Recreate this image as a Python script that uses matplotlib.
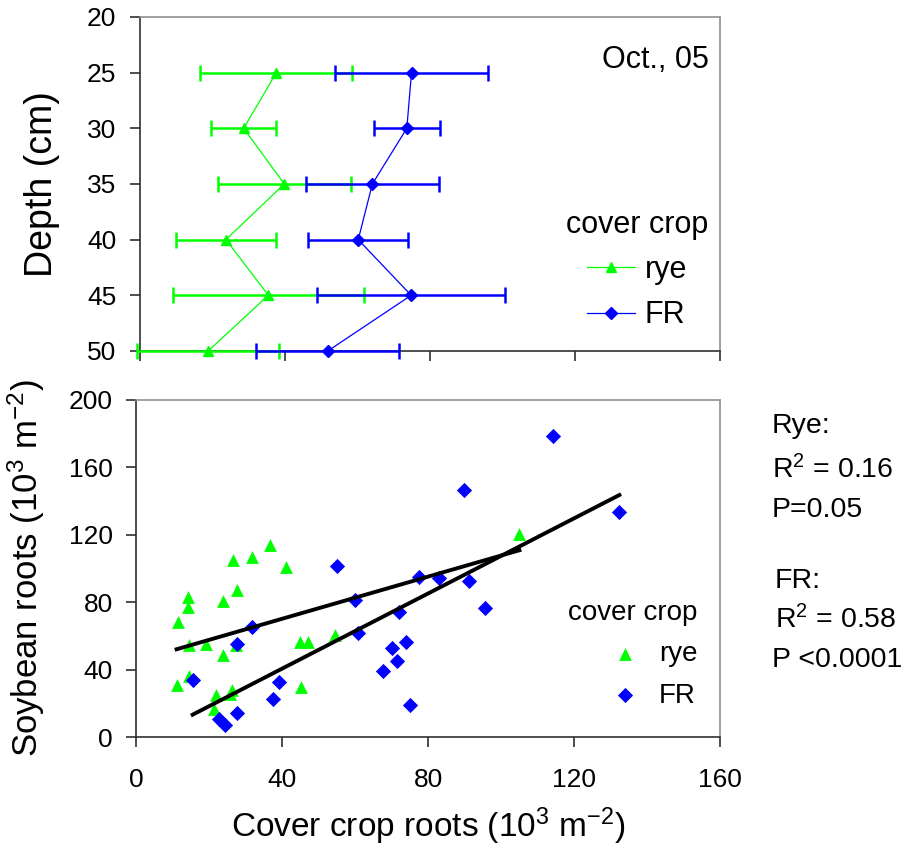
import matplotlib
matplotlib.use("Agg")
import matplotlib.pyplot as plt
import numpy as np

plt.rcParams['font.family'] = ['Liberation Sans', 'DejaVu Sans']
plt.rcParams['mathtext.fontset'] = 'custom'
plt.rcParams['mathtext.rm'] = 'Liberation Sans'
plt.rcParams['mathtext.it'] = 'Liberation Sans:italic'
plt.rcParams['mathtext.bf'] = 'Liberation Sans:bold'

# top panel: roots by depth (Oct., 05)
depth = [25, 30, 35, 40, 45, 50]
rye_mean = [37.6, 28.6, 39.8, 23.7, 35.4, 18.8]
rye_err = [21.0, 9.0, 18.3, 13.8, 26.4, 19.6]
fr_mean = [74.9, 73.6, 64.1, 60.2, 74.8, 51.8]
fr_err = [21.0, 9.1, 18.3, 13.8, 26.0, 19.7]

# bottom panel: soybean roots vs cover crop roots
rye_x = [11.5, 14.0, 14.0, 14.5, 11.0, 14.5, 19.0, 23.8, 23.8, 21.8, 21.3, 26.1,
         25.6, 26.4, 27.6, 27.3, 31.8, 36.6, 41.0, 44.8, 47.1, 45.0, 54.3, 105.0]
rye_y = [68.3, 83.1, 77.2, 54.8, 31.1, 36.0, 55.4, 80.5, 48.9, 25.2, 16.4, 27.7,
         25.8, 104.9, 87.5, 54.4, 106.8, 113.8, 100.9, 56.4, 56.4, 29.7, 60.8, 120.7]
fr_x = [15.4, 22.7, 24.4, 27.6, 27.6, 31.8, 37.5, 39.1, 54.9, 59.9, 60.8, 67.7,
        70.1, 71.5, 72.1, 73.9, 75.0, 77.4, 82.9, 91.2, 95.6, 89.7, 114.3, 132.4]
fr_y = [33.6, 10.5, 7.4, 14.5, 55.4, 65.3, 22.4, 32.6, 101.5, 81.1, 62.0, 39.2,
        52.8, 44.9, 74.2, 56.4, 18.8, 95.0, 94.6, 92.6, 76.8, 146.8, 178.5, 133.4]

# fitted lines (slope, intercept)
rye_fit = [0.625, 45.2]
fr_fit = [1.114, -3.9]

stats = ['Rye:', 'R$^2$ = 0.16', 'P=0.05', 'FR:', 'R$^2$ = 0.58', 'P <0.0001']

green = '#00FF00'
blue = '#0000FF'

fig = plt.figure(figsize=(9.05, 8.49), dpi=100)
ax1 = fig.add_axes([0.1547, 0.5866, 0.6409, 0.3934])
ax2 = fig.add_axes([0.1508, 0.1319, 0.6448, 0.397])

for ax in (ax1, ax2):
    for s in ('top', 'right'):
        ax.spines[s].set_color('#909090')
    for s in ('left', 'bottom'):
        ax.spines[s].set_color('#303030')
    ax.spines[:].set_linewidth(1.2)
    ax.tick_params(direction='out', length=7, width=1.2, labelsize=19, colors='#303030', labelcolor='black')
    ax.tick_params(axis='y', pad=10)
    ax.tick_params(axis='x', pad=15)

# top panel
ax1.errorbar(rye_mean, depth, xerr=rye_err, color=green, marker='^', ms=7, lw=0.9,
             elinewidth=1.8, capsize=5.5, capthick=1.8, clip_on=False, label='rye', zorder=3)
ax1.errorbar(fr_mean, depth, xerr=fr_err, color=blue, marker='D', ms=6, lw=0.9,
             elinewidth=1.8, capsize=5.5, capthick=1.8, clip_on=False, label='FR', zorder=4)
ax1.set_xlim(0, 160)
ax1.set_ylim(50, 20)
ax1.set_xticks([0, 40, 80, 120, 160])
ax1.set_xticklabels([])
ax1.set_yticks([20, 25, 30, 35, 40, 45, 50])
ax1.set_ylabel('Depth (cm)', fontsize=27)
ax1.yaxis.set_label_coords(-0.138, 0.5)
ax1.text(0.98, 0.87, 'Oct., 05', transform=ax1.transAxes, ha='right', va='center', fontsize=22)
h, l = ax1.get_legend_handles_labels()
h = [x[0] for x in h]
ax1.legend(h, l, title='cover crop', loc='center', bbox_to_anchor=(0.857, 0.2425),
           frameon=False, fontsize=22, title_fontsize=22, handlelength=1.57,
           handletextpad=0.33, labelspacing=0.5)

# bottom panel
ax2.scatter(rye_x, rye_y, marker='^', s=85, color=green, label='rye', zorder=3, linewidths=0)
ax2.scatter(fr_x, fr_y, marker='D', s=60, color=blue, label='FR', zorder=3, linewidths=0)
xr = np.array([min(rye_x), max(rye_x)])
ax2.plot(xr, rye_fit[0] * xr + rye_fit[1], color='black', lw=2.8, zorder=4)
xf = np.array([min(fr_x), max(fr_x)])
ax2.plot(xf, fr_fit[0] * xf + fr_fit[1], color='black', lw=2.8, zorder=4)
ax2.set_xlim(0, 160)
ax2.set_ylim(0, 200)
ax2.set_xticks([0, 40, 80, 120, 160])
ax2.set_yticks([0, 40, 80, 120, 160, 200])
ax2.set_xlabel('Cover crop roots (10$^3$ m$^{-2}$)', fontsize=24, labelpad=10)
ax2.set_ylabel('Soybean roots (10$^3$ m$^{-2}$)', fontsize=25)
ax2.yaxis.set_label_coords(-0.153, 0.5)
ax2.legend(title='cover crop', loc='center', bbox_to_anchor=(0.85, 0.245),
           frameon=False, fontsize=20, title_fontsize=20, handlelength=1.0,
           handletextpad=0.72, labelspacing=0.55, alignment='right')

# stats text to the right of lower panel
base_y = [433, 478, 517, 588, 628, 667]
base_x = [772, 772, 772, 775, 775, 772]
for t, xx, yy in zip(stats, base_x, base_y):
    fig.text(xx / 905, 1 - yy / 849, t, fontsize=20.5, va='baseline', ha='left')

fig.savefig('out.png', dpi=100)
